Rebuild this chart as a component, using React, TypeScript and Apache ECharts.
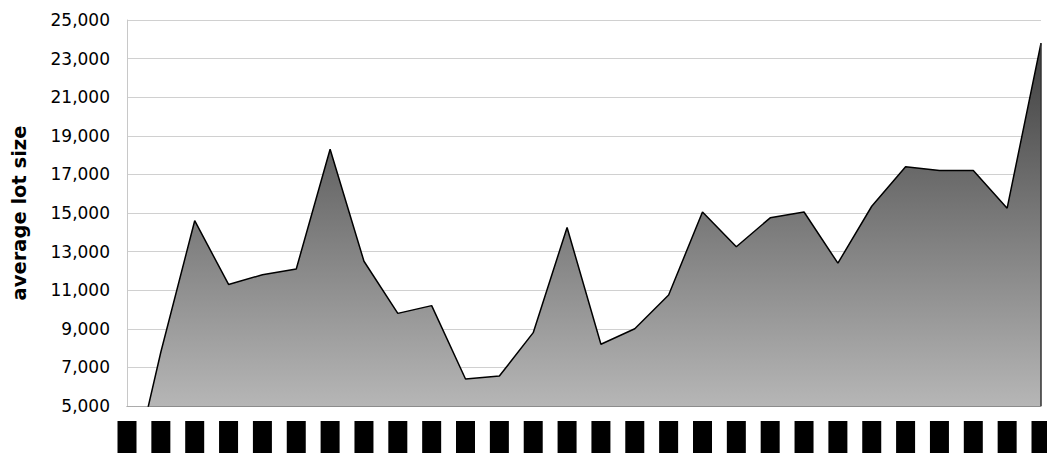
import React, { useEffect, useRef } from "react";
import * as echarts from "echarts";

const categories: string[] = [
  "1", "2", "3", "4", "5", "6", "7", "8", "9", "10", "11", "12", "13", "14",
  "15", "16", "17", "18", "19", "20", "21", "22", "23", "24", "25", "26", "27", "28",
];

const lotSize: number[] = [
  200, 7800, 14600, 11300, 11800, 12100, 18300, 12500, 9800, 10200, 6400, 6550, 8800, 14250,
  8200, 9000, 10750, 15050, 13250, 14750, 15050, 12400, 15350, 17400, 17200, 17200, 15250, 23800,
];

const yMin = 5000;
const yMax = 25000;
const yStep = 2000;
const yAxisTitle = "average lot size";

export default function App() {
  const ref = useRef<HTMLDivElement>(null);

  useEffect(() => {
    if (!ref.current) return;
    const chart = echarts.init(ref.current, undefined, { renderer: "svg" });
    const lastIdx = categories.length - 1;
    chart.setOption({
      animation: false,
      backgroundColor: "#ffffff",
      textStyle: { fontFamily: "DejaVu Sans, sans-serif" },
      grid: {
        left: 127,
        right: 6,
        top: 20,
        bottom: 47,
        containLabel: false,
        outerBoundsMode: "none",
      },
      xAxis: {
        type: "category",
        data: categories,
        boundaryGap: false,
        axisLine: { show: true, lineStyle: { color: "#8c8c8c", width: 1 } },
        axisTick: { show: false },
        splitLine: { show: false },
        axisLabel: {
          interval: 0,
          margin: 15,
          hideOverlap: false,
          formatter: (v: string) => "{b|" + v + "}",
          rich: {
            b: {
              backgroundColor: "#000000",
              color: "#000000",
              width: 19,
              height: 32,
              align: "center",
              fontSize: 10,
            },
          },
        },
      },
      yAxis: {
        type: "value",
        min: yMin,
        max: yMax,
        interval: yStep,
        name: yAxisTitle,
        nameLocation: "middle",
        nameGap: 98,
        nameTextStyle: {
          fontSize: 19.5,
          fontWeight: "bold",
          color: "#000000",
          fontFamily: "DejaVu Sans, sans-serif",
        },
        axisLine: { show: true, lineStyle: { color: "#c8c8c8", width: 1 } },
        axisTick: { show: false },
        splitLine: { show: true, lineStyle: { color: "#d0d0d0", width: 1 } },
        axisLabel: {
          margin: 17,
          fontSize: 17,
          color: "#000000",
          fontFamily: "DejaVu Sans, sans-serif",
          formatter: (v: number) => v.toLocaleString("en-US"),
        },
      },
      series: [
        {
          type: "line",
          data: lotSize,
          symbol: "none",
          lineStyle: { color: "#000000", width: 1.5 },
          areaStyle: {
            opacity: 1,
            color: {
              type: "linear",
              x: 0,
              y: 20,
              x2: 0,
              y2: 406,
              global: true,
              colorStops: [
                { offset: 0, color: "#383838" },
                { offset: 1, color: "#b6b6b6" },
              ],
            },
          },
          markLine: {
            silent: true,
            symbol: "none",
            label: { show: false },
            lineStyle: { color: "#333333", width: 1.5, type: "solid" },
            data: [
              [
                { coord: [lastIdx, lotSize[lastIdx]] },
                { coord: [lastIdx, yMin] },
              ],
            ],
          },
        },
      ],
    });
    return () => chart.dispose();
  }, []);

  return (
    <div
      ref={ref}
      style={{ position: "fixed", left: 0, top: 0, width: 1047, height: 453 }}
    />
  );
}
